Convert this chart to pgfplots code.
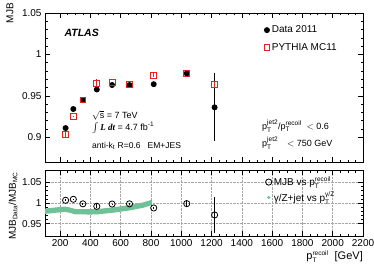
\documentclass[border=0pt]{standalone}
\usepackage{pgfplots}
\pgfplotsset{compat=1.18}
\usepackage{fontspec}
\setmainfont{Liberation Sans}
\newfontfamily\serif{Liberation Serif}
\definecolor{mcred}{RGB}{232,32,32}
\definecolor{band}{RGB}{112,192,152}
\newcommand{\sub}[1]{\mbox{\fontsize{6.5}{7}\selectfont #1}}
\newcommand{\ptx}[1]{p$_{\sub{T}}^{\sub{#1}}$}
\pgfplotsset{
  common/.style={
    scale only axis, width=318pt, xmin=100, xmax=2200,
    xtick={200,400,...,2200}, minor x tick num=3, minor y tick num=4,
    tick align=inside, xtick pos=both, ytick pos=both,
    major tick length=5pt, minor tick length=2.5pt,
    axis line style={line width=0.7pt}, every tick/.style={line width=0.5pt, black},
    ticklabel style={font=\fontsize{10}{12}\selectfont},
    /pgf/number format/assume math mode=true,
    clip=false,
  }
}
\begin{document}
\begin{tikzpicture}
\useasboundingbox (0,0) rectangle (374pt,268pt);
% ---------------- top panel
\begin{axis}[common, at={(45pt,106pt)}, anchor=south west, height=149pt,
  ymin=0.87, ymax=1.05, ytick={0.9,0.95,1,1.05}, xticklabels={},
  yticklabels={0.9,0.95,1,1.05},
  legend style={at={(rel axis cs:0.685,0.935)}, anchor=north west, draw=none, fill=none,
    font=\fontsize{10}{12}\selectfont, row sep=5pt, inner sep=1pt},
  legend cell align=left,
]
\addplot[only marks, mark=*, mark size=2.4pt, black, line width=1.1pt,
  error bars/.cd, y dir=both, y explicit, error bar style={line width=1.1pt}, error mark=none]
  coordinates {
  (236,0.911) +- (0,0.002)
  (287,0.934) +- (0,0.001)
  (350,0.9446) +- (0,0.001)
  (442,0.9576) +- (0,0.001)
  (543,0.963) +- (0,0.001)
  (658,0.963) +- (0,0.001)
  (818,0.964) +- (0,0.001)
  (1036,0.977) +- (0,0.004)
  (1220,0.936) +- (0,0.041)
  };
\addlegendentry{Data 2011}
\addplot[only marks, mark=square, mark size=2.9pt, mcred, line width=0.8pt,
  error bars/.cd, y dir=both, y explicit, error bar style={line width=0.8pt, mcred}, error mark=none]
  coordinates {
  (236,0.903) +- (0,0.003)
  (287,0.925) +- (0,0.001)
  (350,0.945) +- (0,0.001)
  (442,0.965) +- (0,0.005)
  (543,0.966) +- (0,0.001)
  (658,0.964) +- (0,0.001)
  (818,0.975) +- (0,0.002)
  (1036,0.977) +- (0,0.003)
  (1220,0.9636) +- (0,0.003)
  };
\addlegendentry{PYTHIA MC11}
\end{axis}
% ---------------- bottom panel
\begin{axis}[common, at={(45pt,32pt)}, anchor=south west, height=66pt,
  ymin=0.92, ymax=1.08, ytick={0.95,1,1.05}, yticklabels={0.95,1,1.05},
  xticklabels={200,400,600,800,1000,1200,1400,1600,1800,2000,2200},
  grid=major, major grid style={densely dotted, gray!70, line width=0.5pt},
  legend style={at={(rel axis cs:0.69,0.94)}, anchor=north west, draw=none, fill=none,
    font=\fontsize{10}{12}\selectfont, row sep=1pt, inner sep=1pt},
  legend cell align=left,
]
\addplot[fill=band, draw=none, forget plot] coordinates {
  (100,0.9865) (150,0.9885) (230,0.9915) (260,0.9895) (300,0.9855) (400,0.985) (450,0.9855)
  (550,0.9895) (650,0.9945) (750,1.0015) (805,1.008)
  (805,0.995) (750,0.9885) (650,0.9815) (550,0.9765) (450,0.9725) (400,0.972) (300,0.9725)
  (260,0.9765) (230,0.9785) (150,0.9755) (100,0.9735)
  } -- cycle;
\addplot[only marks, mark=o, mark size=3.1pt, black, line width=0.8pt,
  error bars/.cd, y dir=both, y explicit, error bar style={line width=1.1pt}, error mark=none]
  coordinates {
  (236,1.0066) +- (0,0.002)
  (287,1.009) +- (0,0.001)
  (350,0.998) +- (0,0.001)
  (442,0.992) +- (0,0.005)
  (543,0.9975) +- (0,0.001)
  (658,0.998) +- (0,0.001)
  (818,0.988) +- (0,0.002)
  (1036,0.9985) +- (0,0.008)
  (1220,0.971) +- (0,0.044)
  };
\addlegendentry{MJB vs \ptx{recoil}}
\addlegendimage{only marks, mark=*, mark size=1.3pt, band}
\addlegendentry{γ/Z+jet vs \ptx{γ/Z}}
\end{axis}
% ---------------- texts
\node[anchor=west, font=\fontsize{10.5}{12}\selectfont\bfseries\itshape] at (61pt,235pt) {ATLAS};
\node[anchor=west, font=\fontsize{9}{11}\selectfont, inner sep=0pt] at (92pt,153pt) {$\sqrt{\mbox{s}}$ = 7 TeV};
\node[anchor=west, font=\fontsize{9}{11}\selectfont, inner sep=0pt] at (92pt,140pt) {$\int$\,{\serif\bfseries\itshape L dt} = 4.7 fb$^{\sub{-1}}$};
\node[anchor=west, font=\fontsize{8.5}{10}\selectfont, inner sep=0pt] at (92pt,122pt) {anti-k$_{\sub{t}}$ R=0.6\ \ \ EM+JES};
\node[anchor=west, font=\fontsize{9}{11}\selectfont, inner sep=0pt] at (262pt,142pt) {\ptx{jet2}/\ptx{recoil}\ \ $<$ 0.6};
\node[anchor=west, font=\fontsize{9}{11}\selectfont, inner sep=0pt] at (262pt,125pt) {\makebox[25pt][l]{\ptx{jet2}}$<$ 750 GeV};
\node[rotate=90, anchor=east, font=\fontsize{10}{12}\selectfont, inner sep=0pt] at (10pt,265pt) {MJB};
\node[rotate=90, font=\fontsize{10}{12}\selectfont, inner sep=0pt] at (13pt,62pt) {MJB$_{\sub{Data}}$/MJB$_{\sub{MC}}$};
\node[anchor=east, font=\fontsize{11}{13}\selectfont, inner sep=0pt] at (363pt,11.5pt) {p$_{\sub{T}}^{\sub{recoil}}$\ \ [GeV]};
\end{tikzpicture}
\end{document}
